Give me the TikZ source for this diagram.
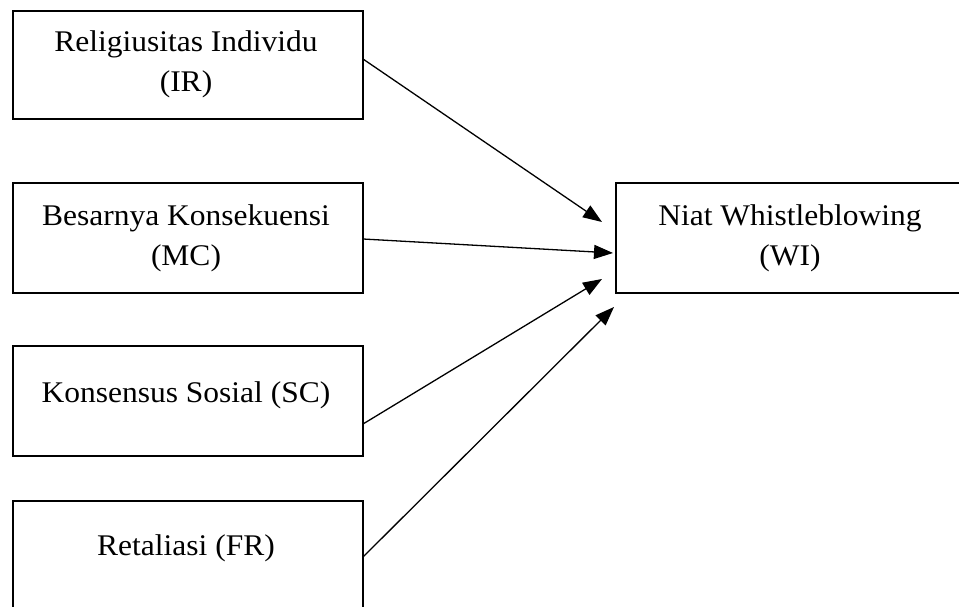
\documentclass[tikz,border=0pt]{standalone}
\usepackage{fontspec}
\setmainfont{Liberation Serif}[FakeStretch=1.05]
\usetikzlibrary{arrows.meta}
\begin{document}
\begin{tikzpicture}[x=1pt,y=-1pt,
  box/.style={draw,line width=2pt,minimum width=350pt,minimum height=110pt,inner sep=0pt,outer sep=0pt},
  lbl/.style={inner sep=0pt,align=center,font=\fontsize{30}{40}\selectfont},
  conn/.style={line width=1.3pt,-{Triangle[length=19pt,width=14pt]}}]
\useasboundingbox (0,0) rectangle (959,607);
\clip (0,0) rectangle (959,607);
\node[box,minimum height=108pt] (b1) at (188,65) {};
\node[box] (b2) at (188,238) {};
\node[box] (b3) at (188,401) {};
\node[box] (b4) at (188,556) {};
\node[box] (w) at (791,238) {};
\node[lbl] (t1) at (186,64) {Religiusitas Individu\\(IR)};
\node[lbl] (t2) at (186,238) {Besarnya Konsekuensi\\(MC)};
\node[lbl,anchor=base] (t3) at (186,402) {Konsensus Sosial (SC)};
\node[lbl,anchor=base] (t4) at (186,555) {Retaliasi (FR)};
\node[lbl] (tw) at (790,238) {Niat Whistleblowing\\(WI)};
\coordinate (s1) at (363,59);
\coordinate (s2) at (363,239);
\coordinate (s3) at (363,424);
\coordinate (s4) at (363,557);
\coordinate (e1) at (602,222);
\coordinate (e2) at (613,253);
\coordinate (e3) at (602,279);
\coordinate (e4) at (614,307);
\draw[conn] (s1) -- (e1);
\draw[conn] (s2) -- (e2);
\draw[conn] (s3) -- (e3);
\draw[conn] (s4) -- (e4);
\end{tikzpicture}
\end{document}
